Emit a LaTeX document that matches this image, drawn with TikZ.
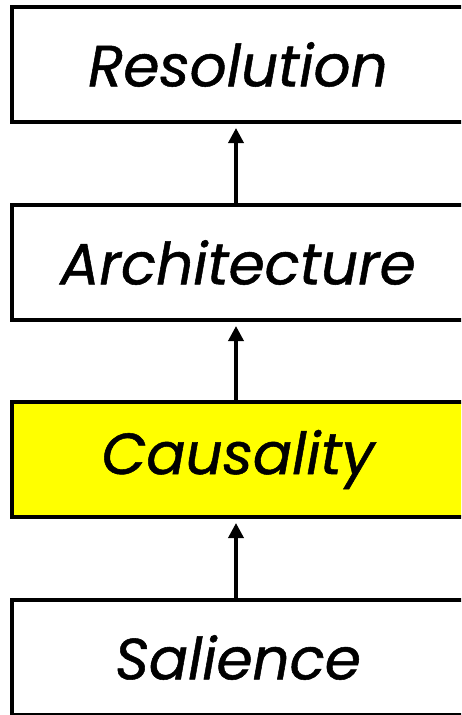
\documentclass[tikz,border=0pt]{standalone}
\usepackage{fontspec}
\setmainfont{Poppins}
\newfontfamily\stagefont{Poppins}[ItalicFeatures={FakeBold=0.9}]
\usetikzlibrary{arrows.meta}
\definecolor{hilite}{RGB}{255,255,0}
\tikzset{
  stage/.style={draw=black, line width=4pt, fill=white, rectangle,
    minimum width=462pt, minimum height=115pt, anchor=north west,
    inner sep=0pt, font=\stagefont\fontsize{58}{58}\selectfont\itshape},
  uparrow/.style={line width=3.5pt, -{Triangle[width=15pt,length=15pt]},
    shorten >=4pt}
}
\begin{document}
\begin{tikzpicture}[x=1pt,y=-1pt]
  \useasboundingbox (0,0) rectangle (461,715);
  \begin{scope}
    \clip (0,0) rectangle (461,715);
    \node[stage] (res) at (10,5) {\hspace*{-10pt}Resolution};
    \node[stage] (arc) at (10,203) {\hspace*{-10pt}Architecture};
    \node[stage, fill=hilite] (cau) at (10,400) {\hspace*{-10pt}Causality};
    \node[stage] (sal) at (10,598) {\hspace*{-10pt}Salience};
  \end{scope}
  \draw[uparrow] (arc.north -| 236,0) -- (res.south -| 236,0);
  \draw[uparrow] (cau.north -| 236,0) -- (arc.south -| 236,0);
  \draw[uparrow] (sal.north -| 236,0) -- (cau.south -| 236,0);
\end{tikzpicture}
\end{document}
